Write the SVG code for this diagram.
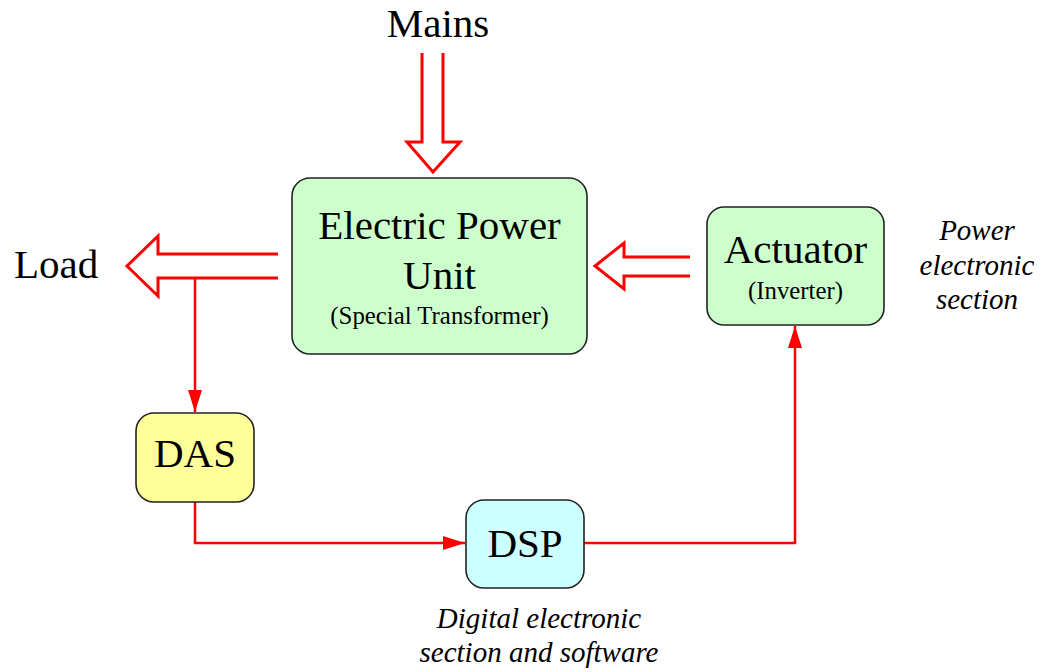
<svg xmlns="http://www.w3.org/2000/svg" width="1042" height="672" viewBox="0 0 1042 672">
<defs>
<style>
.box{stroke:#222;stroke-width:1.6}
.green{fill:#ccffcc}
.yellow{fill:#ffff99}
.cyan{fill:#ccffff}
.big{font-family:"Liberation Serif","Times New Roman",serif;font-size:41px;fill:#000}
.sub{font-family:"Liberation Serif","Times New Roman",serif;font-size:24.8px;fill:#000}
.note{font-family:"Liberation Serif","Times New Roman",serif;font-size:29px;font-style:italic;fill:#000}
.hollow{fill:none;stroke:#ff0000;stroke-width:3;stroke-linejoin:miter}
.wire{fill:none;stroke:#ff0000;stroke-width:2.5}
</style>
<marker id="ah" markerUnits="userSpaceOnUse" markerWidth="24" markerHeight="16" refX="22" refY="7" orient="auto">
<path d="M0,0 L22,7 L0,14 z" fill="#ff0000"/>
</marker>
</defs>
<rect width="1042" height="672" fill="#ffffff"/>

<g id="connectors">
<path class="hollow" d="M422,53 L422,142 L407,142 L433,172 L460,142 L443,142 L443,53"/>
<path class="hollow" d="M278,254 L158,254 L158,236 L127,266 L158,296 L158,278 L278,278"/>
<path class="hollow" d="M690,257 L624,257 L624,243 L595,266 L624,289 L624,276 L690,276"/>
<path class="wire" d="M195,278 L195,412" marker-end="url(#ah)"/>
<path class="wire" d="M195,502 L195,543 L465,543" marker-end="url(#ah)"/>
<path class="wire" d="M584,543 L795,543 L795,326" marker-end="url(#ah)"/>
</g>

<g id="mains"><text class="big" x="438" y="37" text-anchor="middle">Mains</text></g>
<g id="load"><text class="big" x="14" y="278">Load</text></g>

<g id="epu">
<rect class="box green" x="292" y="178" width="295" height="176" rx="18"/>
<text class="big" x="439.5" y="239" text-anchor="middle">Electric Power</text>
<text class="big" x="439.5" y="289" text-anchor="middle">Unit</text>
<text class="sub" x="439.5" y="324" text-anchor="middle">(Special Transformer)</text>
</g>

<g id="actuator">
<rect class="box green" x="707" y="207" width="177" height="118" rx="17"/>
<text class="big" x="795.5" y="263" text-anchor="middle">Actuator</text>
<text class="sub" x="795.5" y="299" text-anchor="middle">(Inverter)</text>
</g>

<g id="das">
<rect class="box yellow" x="136" y="413" width="118" height="89" rx="18"/>
<text class="big" x="195" y="467" text-anchor="middle">DAS</text>
</g>

<g id="dsp">
<rect class="box cyan" x="466" y="500" width="118" height="88" rx="18"/>
<text class="big" x="525" y="557" text-anchor="middle">DSP</text>
</g>

<g id="power-note">
<text class="note" x="977" y="240" text-anchor="middle">Power</text>
<text class="note" x="977" y="275" text-anchor="middle">electronic</text>
<text class="note" x="977" y="309" text-anchor="middle">section</text>
</g>

<g id="digital-note">
<text class="note" x="539" y="628" text-anchor="middle">Digital electronic</text>
<text class="note" x="539" y="662" text-anchor="middle">section and software</text>
</g>
</svg>
